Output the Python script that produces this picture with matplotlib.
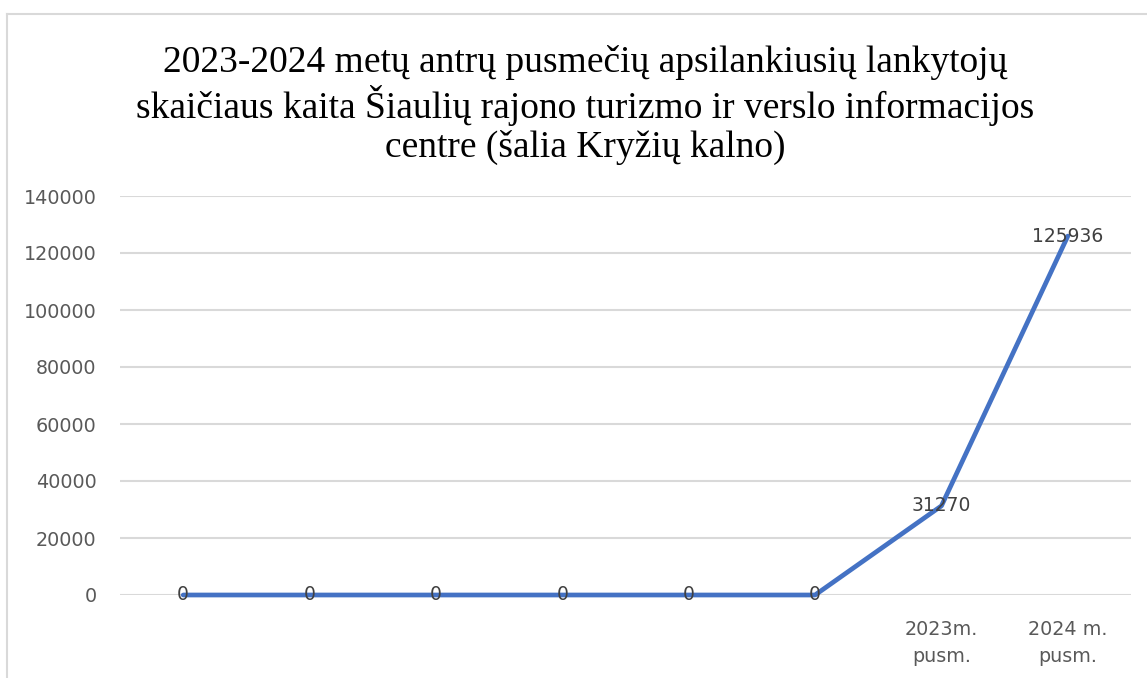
import matplotlib.pyplot as plt
from matplotlib.lines import Line2D

# chart data
categories = ['', '', '', '', '', '', '2023m.\npusm.', '2024 m.\npusm.']
visitors = [0, 0, 0, 0, 0, 0, 31270, 125936]
y_ticks = [0, 20000, 40000, 60000, 80000, 100000, 120000, 140000]

title = ('2023-2024 metų antrų pusmečių apsilankiusių lankytojų\n'
         'skaičiaus kaita Šiaulių rajono turizmo ir verslo informacijos\n'
         'centre (šalia Kryžių kalno)')

W, H = 1147, 678
fig = plt.figure(figsize=(W / 100, H / 100), dpi=100)
ax = fig.add_axes([120 / W, (H - 595) / H, (1131 - 120) / W, (595 - 196) / H])

x = list(range(len(categories)))
ax.plot(x, visitors, color='#4472C4', linewidth=3.4, solid_capstyle='round',
        solid_joinstyle='round', zorder=3, clip_on=False)

for xi, v in zip(x, visitors):
    ax.text(xi, v, str(v), ha='center', va='center', fontsize=13.5,
            color='#404040', zorder=4)

ax.set_xlim(-0.5, len(categories) - 0.5)
ax.set_ylim(0, 140000)
ax.set_yticks(y_ticks)
ax.set_yticklabels([str(t) for t in y_ticks])
ax.set_xticks(x)
ax.set_xticklabels(categories, linespacing=1.5)
ax.grid(axis='y', color='#D9D9D9', linewidth=1.5)
ax.set_axisbelow(True)
for s in ax.spines.values():
    s.set_visible(False)
ax.tick_params(axis='both', length=0, labelsize=13.8, colors='#595959')
ax.tick_params(axis='y', pad=17)
ax.tick_params(axis='x', pad=18)

fig.text(585 / W, 1 - 45 / H, title, ha='center', va='top', fontsize=27,
         family='Liberation Serif', linespacing=1.15)

# chart area border (partially visible)
fig.add_artist(Line2D([7 / W, 7 / W], [0, 1 - 14 / H], color='#D9D9D9', linewidth=1.5))
fig.add_artist(Line2D([7 / W, 1], [1 - 14 / H, 1 - 14 / H], color='#D9D9D9', linewidth=1.5))

fig.savefig('out.png', dpi=100)
